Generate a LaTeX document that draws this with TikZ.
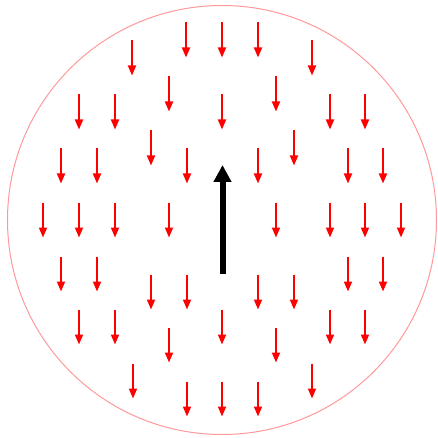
\documentclass[tikz,border=0pt]{standalone}
\usetikzlibrary{arrows.meta}

\tikzset{
    fieldarrow/.style={-{Triangle[length=10pt,width=8pt]}, red, line width=1.8pt},
    spinarrow/.style={-{Triangle[length=17pt,width=17pt]}, black, line width=6pt}
}

\begin{document}
\begin{tikzpicture}[x=1pt, y=-1pt]
    \useasboundingbox (0,0) rectangle (438,438);

    % 外圈
    \draw[red!40, line width=1pt] (222,220) circle (214.5);

    % 红色箭头（向下）
    \foreach \x/\y in {186/40, 222/40, 258/40,
                       132/58, 312/58,
                       169/94, 276/94,
                       79/112, 115/112, 222/112, 330/112, 365/112,
                       151/148, 294/148,
                       61/166, 97/166, 187/166, 258/166, 348/166, 383/166,
                       43/220, 79/220, 115/220, 169/220, 276/220, 330/220, 365/220, 401/220,
                       61/274, 97/274, 348/274, 383/274,
                       151/292, 187/292, 258/292, 294/292,
                       79/327, 115/327, 222/327, 330/327, 365/327,
                       169/345, 276/345,
                       133/381, 312/381,
                       187/399, 222/399, 258/399}
        \draw[fieldarrow] (\x,\y-17.5) -- (\x,\y+17.5);

    % 中心黑色箭头（向上）
    \draw[spinarrow] (222.5,274) -- (222.5,165);
\end{tikzpicture}
\end{document}
